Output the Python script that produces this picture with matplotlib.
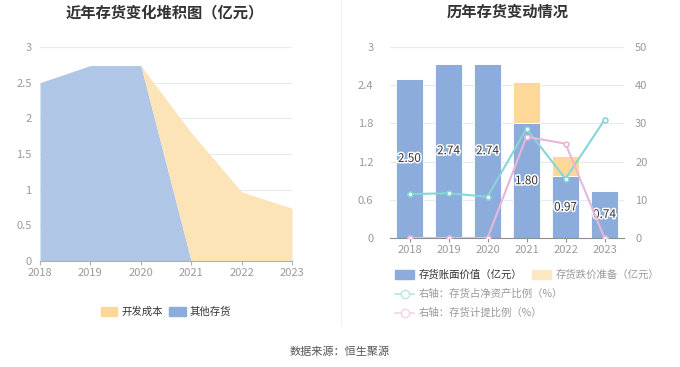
import numpy as np
import matplotlib
matplotlib.use("Agg")
import matplotlib.pyplot as plt
from matplotlib.patches import Patch
from matplotlib.lines import Line2D
import matplotlib.patheffects as pe

plt.rcParams['font.family'] = ['Noto Sans CJK SC', 'DejaVu Sans']

# --- data ---
years = ['2018', '2019', '2020', '2021', '2022', '2023']
other_inv = [2.50, 2.74, 2.74, 0, 0, 0]          # 其他存货
dev_cost = [0, 0, 0, 1.80, 0.97, 0.74]           # 开发成本
book_value = [2.50, 2.74, 2.74, 1.80, 0.97, 0.74]  # 存货账面价值
impairment = [0, 0, 0, 0.65, 0.32, 0]            # 存货跌价准备
net_asset_ratio = [11.5, 11.7, 10.8, 28.6, 15.5, 30.9]  # 存货占净资产比例
provision_ratio = [0, 0, 0, 26.5, 24.7, 0]        # 存货计提比例

BLUE_AREA = '#b0c6e6'
ORANGE_AREA = '#fde4b8'
BLUE = '#8cacdb'
ORANGE = '#fed898'
TEAL = '#86d6d8'
PINK = '#e9b6d9'
GRID = '#e6eaf3'
TICK = '#9a9a9a'

fig = plt.figure(figsize=(6.8, 3.67), dpi=100)

#--left: stacked area--#
ax1 = fig.add_axes([40/680, 106/367, 252/680, 214/367])
x = np.arange(len(years))
other = np.array(other_inv)
dev = np.array(dev_cost)
ax1.fill_between(x, 0, other, color=BLUE_AREA, lw=0, zorder=2)
ax1.fill_between(x, other, other + dev, color=ORANGE_AREA, lw=0, zorder=2)
ax1.set_xlim(0, 5)
ax1.set_ylim(0, 3)
ax1.set_yticks([0, 0.5, 1, 1.5, 2, 2.5, 3])
ax1.set_yticklabels(['0', '0.5', '1', '1.5', '2', '2.5', '3'])
ax1.set_xticks(x)
ax1.set_xticklabels(years)
ax1.grid(axis='y', color=GRID, lw=0.8, zorder=0)
for s in ['top', 'right', 'left']:
    ax1.spines[s].set_visible(False)
ax1.spines['bottom'].set_color('#b0b0b0')
ax1.tick_params(axis='y', length=0, labelsize=8, colors=TICK, pad=6)
ax1.tick_params(axis='x', length=3, color='#b0b0b0', labelsize=8, labelcolor=TICK, pad=2)
ax1.set_axisbelow(True)

fig.text(165/680, 1 - 12/367, '近年存货变化堆积图（亿元）', ha='center', va='center',
         fontsize=11, fontweight='bold', color='#333333')

leg1 = fig.legend(handles=[Patch(color='#ffd799', label='开发成本'),
                           Patch(color=BLUE, label='其他存货')],
                  loc='center', bbox_to_anchor=(166/680, 1 - 312/367), ncol=2,
                  frameon=False, fontsize=7.5, handlelength=1.6, handleheight=0.9,
                  columnspacing=0.6, handletextpad=0.4)
for t in leg1.get_texts():
    t.set_color('#333333')

#--right: bars + lines--#
ax2 = fig.add_axes([390/680, 129/367, 234/680, 191/367])
bars = ax2.bar(x, book_value, width=0.69, color=BLUE, edgecolor='white', lw=0.6, zorder=2)
ax2.bar(x, impairment, width=0.69, bottom=book_value, color=ORANGE, edgecolor='white', lw=0.6, zorder=2)
for xi, v in zip(x, book_value):
    ax2.text(xi, v / 2, f'{v:.2f}', ha='center', va='center', fontsize=8.5, color='#333333',
             path_effects=[pe.withStroke(linewidth=2.2, foreground='white')], zorder=5)
ax2.set_xlim(-0.5, 5.5)
ax2.set_ylim(0, 3)
ax2.set_yticks([0, 0.6, 1.2, 1.8, 2.4, 3])
ax2.set_yticklabels(['0', '0.6', '1.2', '1.8', '2.4', '3'])
ax2.set_xticks(x)
ax2.set_xticklabels(years)
ax2.grid(axis='y', color=GRID, lw=0.8, zorder=0)
ax2.set_axisbelow(True)
for s in ['top', 'right', 'left']:
    ax2.spines[s].set_visible(False)
ax2.spines['bottom'].set_color('#909090')
ax2.tick_params(axis='y', length=0, labelsize=8, colors=TICK, pad=12)
ax2.tick_params(axis='x', length=3, color='#909090', labelsize=8, labelcolor=TICK, pad=2)

ax3 = ax2.twinx()
ax3.plot(x, net_asset_ratio, color=TEAL, lw=1.5, marker='o', ms=3.5,
         mfc='white', mec=TEAL, mew=1.2, zorder=4)
ax3.plot(x, provision_ratio, color=PINK, lw=1.5, marker='o', ms=3.5,
         mfc='white', mec=PINK, mew=1.2, zorder=4)
ax3.set_ylim(0, 50)
ax3.set_yticks([0, 10, 20, 30, 40, 50])
for s in ['top', 'right', 'left', 'bottom']:
    ax3.spines[s].set_visible(False)
ax3.tick_params(axis='y', length=0, labelsize=8, colors=TICK, pad=8)

fig.text(508/680, 1 - 12/367, '历年存货变动情况', ha='center', va='center',
         fontsize=11, fontweight='bold', color='#333333')

# legends (three rows)
leg2 = fig.legend(handles=[Patch(color=BLUE, label='存货账面价值（亿元）'),
                           Patch(color='#fde8c6', label='存货跌价准备（亿元）')],
                  loc='center left', bbox_to_anchor=(386/680, 1 - 275/367), ncol=2,
                  frameon=False, fontsize=7.5, handlelength=1.8, handleheight=0.9,
                  columnspacing=1.0, handletextpad=0.4)
leg2.get_texts()[0].set_color('#333333')
leg2.get_texts()[1].set_color('#999999')

leg3 = fig.legend(handles=[Line2D([], [], color='#b8e6e7', lw=1.2, marker='o', ms=6,
                                  mfc='white', mec='#b8e6e7', label='右轴：存货占净资产比例（%）')],
                  loc='center left', bbox_to_anchor=(386/680, 1 - 294/367),
                  frameon=False, fontsize=7.5, handlelength=1.8, handletextpad=0.4)
leg3.get_texts()[0].set_color('#999999')

leg4 = fig.legend(handles=[Line2D([], [], color='#f2d3e8', lw=1.2, marker='o', ms=6,
                                  mfc='white', mec='#f2d3e8', label='右轴：存货计提比例（%）')],
                  loc='center left', bbox_to_anchor=(386/680, 1 - 313/367),
                  frameon=False, fontsize=7.5, handlelength=1.8, handletextpad=0.4)
leg4.get_texts()[0].set_color('#999999')

# separator + source
fig.add_artist(Line2D([341/680, 341/680], [1 - 325/367, 1.0], color='#f0f0f0', lw=0.8))
fig.text(340/680, 1 - 352/367, '数据来源：恒生聚源', ha='center', va='center',
         fontsize=8, color='#555555')

fig.savefig('out.png', dpi=100)
